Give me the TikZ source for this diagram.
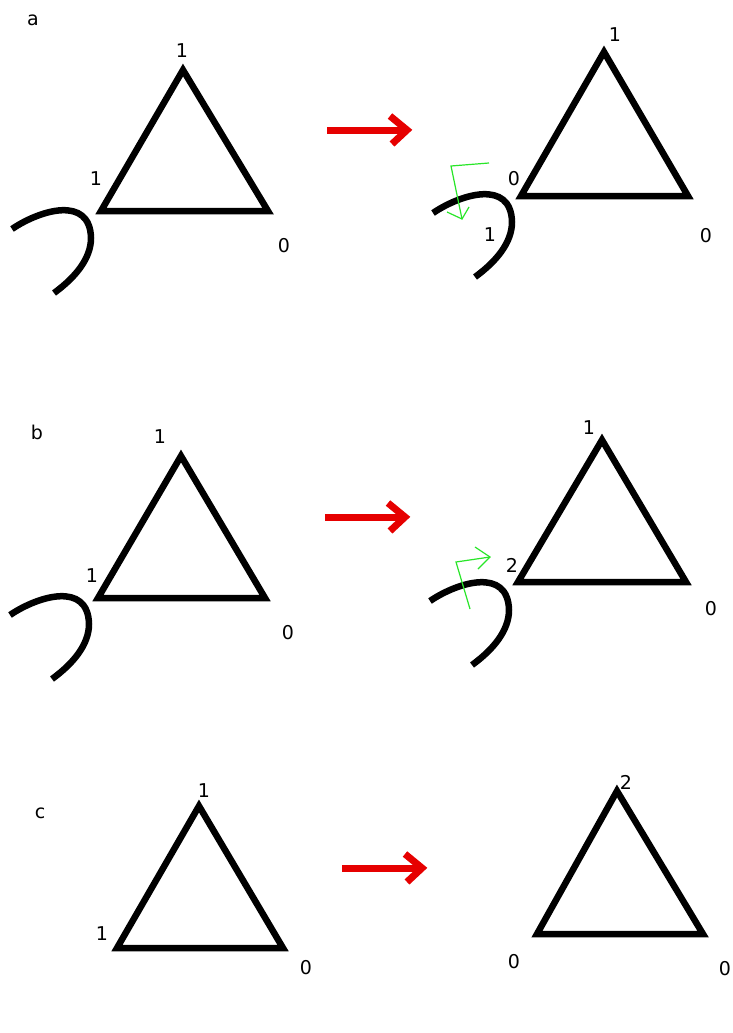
\documentclass[tikz,border=0pt]{standalone}
\usepackage{fontspec}
\setmainfont{DejaVu Sans}
\begin{document}
\begin{tikzpicture}[x=1pt,y=-1pt,
  tri/.style={line width=6.5pt,line join=miter,miter limit=3},
  lbl/.style={inner sep=0pt,font=\fontsize{19}{22}\selectfont},
  hook/.style={line width=6.5pt},
  redarrow/.style={draw={rgb,255:red,230;green,0;blue,0},line width=7pt},
  greenarrow/.style={draw={rgb,255:red,40;green,230;blue,40},line width=1.2pt,line join=miter},
]
\useasboundingbox (0,0) rectangle (733,1033);
\fill[white] (0,0) rectangle (733,1033);

% hook curve pic
\tikzset{hookcurve/.pic={
  \draw[hook] (12,229) .. controls (40,210) and (90,195) .. (91,238)
     .. controls (91,258) and (76,277) .. (54,293);
}}

% red arrow pic
\tikzset{bigarrow/.pic={
  \draw[redarrow] (0,0) -- (78,0);
  \draw[redarrow,line join=miter] (63,-14) -- (80,0) -- (65,14);
}}

% ---------------- a ----------------
\node[lbl] (la) at (33,20) {a};
\coordinate (a1t) at (183,70);
\coordinate (a1l) at (101,211);
\coordinate (a1r) at (268,211);
\draw[tri] (a1t) -- (a1l) -- (a1r) -- cycle;
\node[lbl] (a1tl) at (182,51) {1};
\node[lbl] (a1ll) at (96,179) {1};
\node[lbl] (a1rl) at (284,246) {0};
\pic at (0,0) {hookcurve};

\pic at (327,130) {bigarrow};

\coordinate (a2t) at (604,52);
\coordinate (a2l) at (521,196);
\coordinate (a2r) at (688,196);
\draw[tri] (a2t) -- (a2l) -- (a2r) -- cycle;
\node[lbl] (a2tl) at (615,35) {1};
\node[lbl] (a2ll) at (514,179) {0};
\node[lbl] (a2rl) at (706,236) {0};
\node[lbl] (a2cl) at (490,235) {1};
\pic at (421,-16) {hookcurve};
\coordinate (ga0) at (489,163);
\coordinate (ga1) at (451,166);
\coordinate (ga2) at (462,219);
\draw[greenarrow] (ga0) -- (ga1) -- (ga2);
\draw[greenarrow] (447,212) -- (ga2) -- (469,207);

% ---------------- b ----------------
\node[lbl] (lb) at (37,432) {b};
\coordinate (b1t) at (181,456);
\coordinate (b1l) at (98,598);
\coordinate (b1r) at (265,598);
\draw[tri] (b1t) -- (b1l) -- (b1r) -- cycle;
\node[lbl] (b1tl) at (160,437) {1};
\node[lbl] (b1ll) at (92,576) {1};
\node[lbl] (b1rl) at (288,633) {0};
\pic at (-2,386) {hookcurve};

\pic at (325,517) {bigarrow};

\coordinate (b2t) at (602,440);
\coordinate (b2l) at (518,582);
\coordinate (b2r) at (686,582);
\draw[tri] (b2t) -- (b2l) -- (b2r) -- cycle;
\node[lbl] (b2tl) at (589,428) {1};
\node[lbl] (b2ll) at (512,565) {2};
\node[lbl] (b2rl) at (711,609) {0};
\pic at (418,372) {hookcurve};
\coordinate (gb0) at (470,609);
\coordinate (gb1) at (456,562);
\coordinate (gb2) at (490,557);
\draw[greenarrow] (gb0) -- (gb1) -- (gb2);
\draw[greenarrow] (475,547) -- (gb2) -- (478,569);

% ---------------- c ----------------
\node[lbl] (lc) at (40,813) {c};
\coordinate (c1t) at (199,806);
\coordinate (c1l) at (117,948);
\coordinate (c1r) at (283,948);
\draw[tri] (c1t) -- (c1l) -- (c1r) -- cycle;
\node[lbl] (c1tl) at (204,791) {1};
\node[lbl] (c1ll) at (102,934) {1};
\node[lbl] (c1rl) at (306,968) {0};

\pic at (342,868) {bigarrow};

\coordinate (c2t) at (617,791);
\coordinate (c2l) at (537,934);
\coordinate (c2r) at (703,934);
\draw[tri] (c2t) -- (c2l) -- (c2r) -- cycle;
\node[lbl] (c2tl) at (626,782) {2};
\node[lbl] (c2ll) at (514,962) {0};
\node[lbl] (c2rl) at (725,969) {0};
\end{tikzpicture}
\end{document}
